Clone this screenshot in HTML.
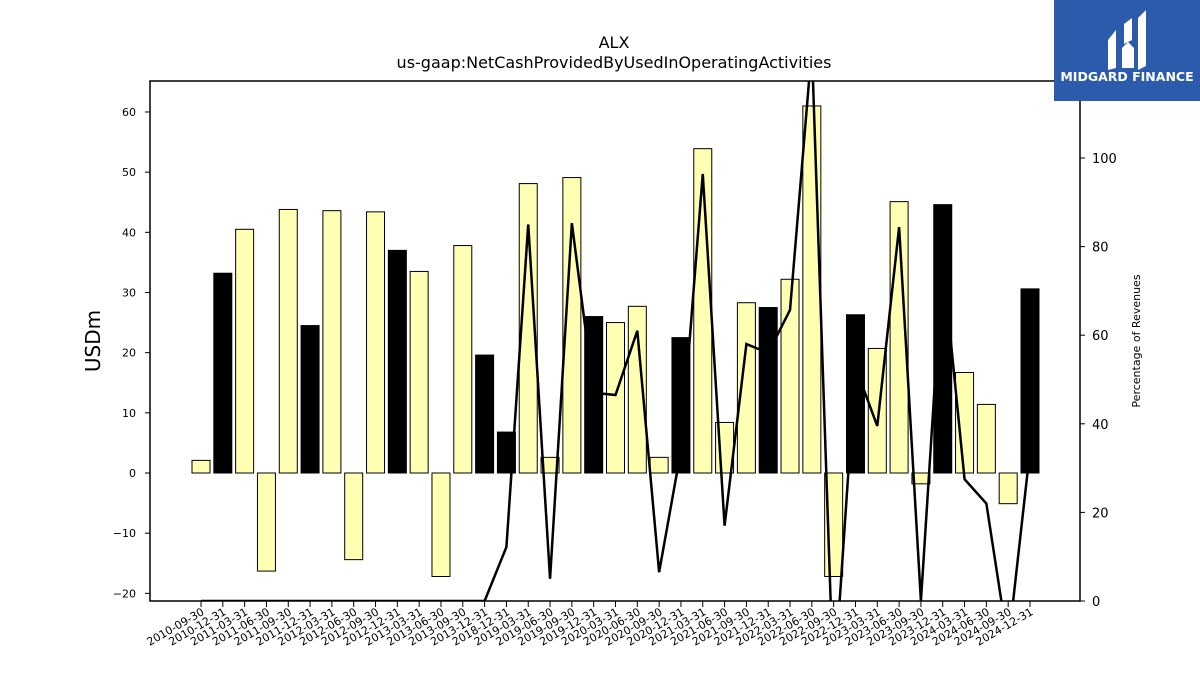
<!DOCTYPE html>
<html><head><meta charset="utf-8"><style>
body{margin:0;background:#fff;}
svg text{font-family:"DejaVu Sans","Liberation Sans",sans-serif;}
</style></head><body>
<svg id="chart" width="1200" height="675" xmlns="http://www.w3.org/2000/svg">
<rect width="1200" height="675" fill="#fff"/>
<text x="614" y="48" font-size="16" text-anchor="middle">ALX</text>
<text x="614" y="68" font-size="16" text-anchor="middle">us-gaap:NetCashProvidedByUsedInOperatingActivities</text>
<text transform="translate(100,341) rotate(-90)" font-size="20" text-anchor="middle">USDm</text>
<text transform="translate(1140,341) rotate(-90)" font-size="11" text-anchor="middle">Percentage of Revenues</text>
<g id="yticks"></g><g id="y2ticks"></g><g id="xticks"></g>
<defs><clipPath id="plotclip"><rect x="150" y="81" width="930" height="520"/></clipPath></defs>
<g id="bars" clip-path="url(#plotclip)"></g>
<g id="line" clip-path="url(#plotclip)"></g>
<rect x="150" y="81" width="930" height="520" fill="none" stroke="#000" stroke-width="1.5"/>
<g>
<rect x="1054" y="0" width="146" height="101" fill="#2d5bab"/>
<path d="M1108 40 L1116 30 L1116 68 L1108 70 Z M1124 24 L1132 18 L1132 40 L1124 44 Z M1138 18 L1146 10 L1146 66 L1138 70 Z M1122 48 L1128 42 L1134 48 L1134 68 L1122 68 Z" fill="#fff"/>
<text x="1127" y="81" font-size="12.5" font-weight="bold" fill="#fff" text-anchor="middle">MIDGARD FINANCE</text>
</g>
</svg>
<script>
const categories=["2010-09-30","2010-12-31","2011-03-31","2011-06-30","2011-09-30","2011-12-31","2012-03-31","2012-06-30","2012-09-30","2012-12-31","2013-03-31","2013-06-30","2013-09-30","2013-12-31","2018-12-31","2019-03-31","2019-06-30","2019-09-30","2019-12-31","2020-03-31","2020-06-30","2020-09-30","2020-12-31","2021-03-31","2021-06-30","2021-09-30","2021-12-31","2022-03-31","2022-06-30","2022-09-30","2022-12-31","2023-03-31","2023-06-30","2023-09-30","2023-12-31","2024-03-31","2024-06-30","2024-09-30","2024-12-31"];
const cashFlow=[2.1,33.2,40.5,-16.3,43.8,24.5,43.6,-14.4,43.4,37,33.5,-17.2,37.8,19.6,6.8,48.1,2.6,49.1,26,25,27.7,2.6,22.5,53.9,8.4,28.3,27.5,32.2,61,-17.2,26.3,20.7,45.1,-1.8,44.6,16.7,11.4,-5.1,30.6];
const isAnnual=[0,1,0,0,0,1,0,0,0,1,0,0,0,1,1,0,0,0,1,0,0,0,1,0,0,0,1,0,0,0,1,0,0,0,1,0,0,0,1];
const pctRevenue=[0,0,0,0,0,0,0,0,0,0,0,0,0,0,12.2,85,5,85.3,47,46.5,61,6.5,34,96.4,17,58,56,65.7,125,-20,52.8,39.5,84.4,0,77,27.5,22,-10,34];
const yTicks=[-20,-10,0,10,20,30,40,50,60];
const y2Ticks=[0,20,40,60,80,100];
const NS="http://www.w3.org/2000/svg";
const x=i=>201+i*(1030-201)/(categories.length-1);
const y=v=>473-v*6.017;
const y2=v=>601-v*4.43;
function mk(tag,attrs,parent){const e=document.createElementNS(NS,tag);for(const k in attrs)e.setAttribute(k,attrs[k]);document.getElementById(parent).appendChild(e);return e;}
yTicks.forEach(t=>{
 const l=mk('line',{x1:145,x2:150,y1:y(t),y2:y(t),stroke:'#000'},'yticks');
 
 
 const tx=mk('text',{x:136,y:y(t)+4,'font-size':11,'text-anchor':'end'},'yticks');
 tx.textContent=t<0?'\u2212'+(-t):t;
 
 
});
y2Ticks.forEach(t=>{
 const l=mk('line',{x1:1080,x2:1085,y1:y2(t),y2:y2(t),stroke:'#000'},'y2ticks');
 
 
 const tx=mk('text',{x:1092,y:y2(t)+5,'font-size':13},'y2ticks');
 tx.textContent=t;
 
 
});
categories.forEach((c,i)=>{
 const l=mk('line',{x1:x(i),x2:x(i),y1:601,y2:607,stroke:'#000'},'xticks');
 
 
 const tx=mk('text',{transform:`translate(${x(i)+4},${614}) rotate(-30)`,'font-size':11,'text-anchor':'end'},'xticks');
 tx.textContent=c;
 
 
 const v=cashFlow[i];
 const r=mk('rect',{x:x(i)-9,y:Math.min(y(v),y(0)),width:18,height:Math.abs(y(v)-y(0)),fill:isAnnual[i]?'#000':'#ffffb3',stroke:'#000','stroke-width':1},'bars');
 
 
});
const pts=pctRevenue.map((v,i)=>x(i)+','+y2(v)).join(' ');
const pl=mk('polyline',{points:pts,fill:'none',stroke:'#000','stroke-width':2.5,'stroke-linejoin':'miter'},'line');


</script>
</body></html>
